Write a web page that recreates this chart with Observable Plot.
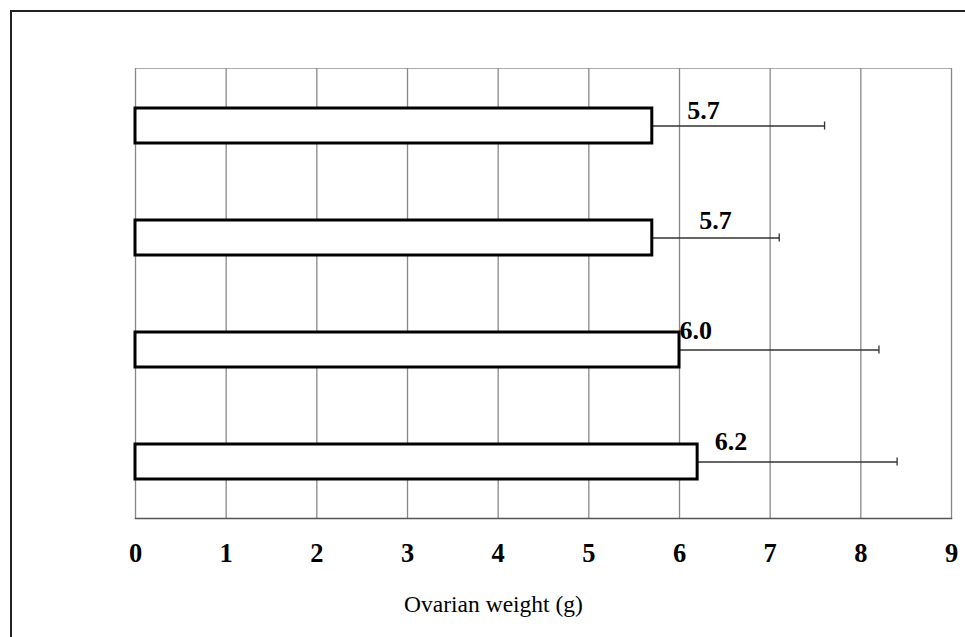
<!DOCTYPE html>
<html>
<head>
<meta charset="utf-8">
<script src="https://cdn.jsdelivr.net/npm/d3@7"></script>
<script src="https://cdn.jsdelivr.net/npm/@observablehq/plot@0.6"></script>
<style>
  html, body { margin: 0; padding: 0; background: #fff; overflow: hidden; }
  #wrap { position: relative; width: 965px; height: 637px; overflow: hidden; }
  #border { position: absolute; left: 10px; top: 10px; width: 1000px; height: 700px;
            border-left: 2px solid #222; border-top: 2px solid #222; pointer-events: none; }
</style>
</head>
<body>
<div id="wrap"><div id="border"></div></div>
<script>
// Data
const groups = ["Group 1", "Group 2", "Group 3", "Group 4"];
const means = [5.7, 5.7, 6.0, 6.2];
const upperError = [7.6, 7.1, 8.2, 8.4];
const valueLabels = ["5.7", "5.7", "6.0", "6.2"];
const xTicks = [0, 1, 2, 3, 4, 5, 6, 7, 8, 9];
const xLabel = "Ovarian weight (g)";

const rows = groups.map((g, i) => ({group: g, mean: means[i], upper: upperError[i], label: valueLabels[i], i}));

// label nudges (layout, matching manually placed labels)
const nudgeX = [35, 47, 0, 17];
const nudgeY = [-7, -9, -11, -12];

const font = "'Liberation Serif', 'Times New Roman', serif";

const chart = Plot.plot({
  width: 965,
  height: 637,
  marginLeft: 135,
  marginRight: 14,
  marginTop: 68,
  marginBottom: 119,
  style: {fontFamily: font, background: "white", color: "#000"},
  x: {domain: [0, 9], ticks: xTicks},
  y: {domain: groups, paddingInner: 0.689, paddingOuter: 0.3445, axis: null},
  marks: [
    Plot.frame({stroke: "#aaa"}),
    Plot.ruleX(xTicks, {stroke: "#888", strokeWidth: 1.3}),
    Plot.frame({anchor: "bottom", stroke: "#555", strokeWidth: 1.5}),
    Plot.link(rows, {x1: "mean", x2: "upper", y1: "group", y2: "group", stroke: "#333", strokeWidth: 1.3}),
    Plot.tickX(rows, {x: "upper", y: "group", stroke: "#333", strokeWidth: 1.3, insetTop: 13.5, insetBottom: 13.5}),
    Plot.barX(rows, {x1: 0, x2: "mean", y: "group", fill: "white", stroke: "#000", strokeWidth: 3}),
    ...rows.map((r, k) => Plot.text([r], {
      x: "mean", y: "group", text: "label",
      textAnchor: "start", lineAnchor: "bottom",
      dx: nudgeX[k], dy: nudgeY[k],
      fontSize: 26, fontWeight: "bold", fill: "#000"
    })),
    Plot.axisX(xTicks, {
      tickSize: 0, tickPadding: 25, fontSize: 26.5, fontWeight: "bold",
      label: null, tickFormat: d => String(d), fill: "#000"
    }),
    Plot.text([xLabel], {
      text: d => d, frameAnchor: "bottom", lineAnchor: "bottom",
      dx: -50, dy: 93, fontSize: 23.5, fill: "#000"
    })
  ]
});
document.getElementById("wrap").insertBefore(chart, document.getElementById("border"));
</script>
</body>
</html>
